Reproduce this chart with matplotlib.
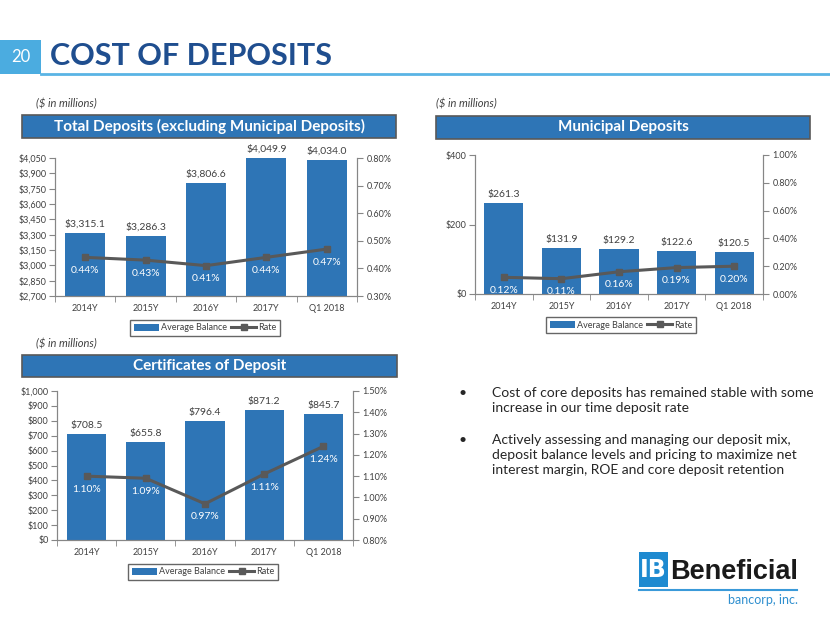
import numpy as np
import matplotlib
matplotlib.use("Agg")
import matplotlib.pyplot as plt
from matplotlib.patches import Rectangle, Patch
from matplotlib.lines import Line2D

# data ($ in millions, rates in %)
years = ['2014Y', '2015Y', '2016Y', '2017Y', 'Q1 2018']
total_bal = [3315.1, 3286.3, 3806.6, 4049.9, 4034.0]
total_rate = [0.44, 0.43, 0.41, 0.44, 0.47]
muni_bal = [261.3, 131.9, 129.2, 122.6, 120.5]
muni_rate = [0.12, 0.11, 0.16, 0.19, 0.20]
cd_bal = [708.5, 655.8, 796.4, 871.2, 845.7]
cd_rate = [1.10, 1.09, 0.97, 1.11, 1.24]

bullets = [
    ["Cost of core deposits has remained stable with some",
     "increase in our time deposit rate"],
    ["Actively assessing and managing our deposit mix,",
     "deposit balance levels and pricing to maximize net",
     "interest margin, ROE and core deposit retention"],
]

BAR = '#2E75B6'
LINE = '#595959'
TXT = '#404040'
SPINE = '#868686'

plt.rcParams['font.family'] = ['Lato', 'DejaVu Sans']

W, H = 830, 623
fig = plt.figure(figsize=(W / 100, H / 100), dpi=100)


def fx(x):
    return x / W


def fy(y):
    return 1 - y / H


def box(l, t, r, b):
    return [fx(l), fy(b), (r - l) / W, (b - t) / H]


# slide title
fig.patches.append(Rectangle((fx(0), fy(74)), fx(41), 34 / H, transform=fig.transFigure,
                             facecolor='#4BACE0', edgecolor='none'))
fig.text(fx(21), fy(57), '20', color='white', fontsize=12, ha='center', va='center')
fig.add_artist(Line2D([fx(41), 1], [fy(74), fy(74)], color='#5AB4E5', lw=2))
fig.text(fx(50), fy(56), 'COST OF DEPOSITS', color='#1F4E8F', fontsize=22,
         fontweight='bold', ha='left', va='center')


def header(l, t, r, b, title):
    fig.patches.append(Rectangle((fx(l), fy(b)), (r - l) / W, (b - t) / H,
                                 transform=fig.transFigure, facecolor=BAR,
                                 edgecolor='#595959', lw=1.2))
    fig.text(fx((l + r) / 2), fy((t + b) / 2), title, color='white', fontsize=11,
             fontweight='bold', ha='center', va='center')


def draw_chart(pos, bal, rate, ylim, yticks, yfmt, rlim, rticks, bw, leg_xy):
    ax = fig.add_axes(pos)
    x = np.arange(len(years))
    ax.bar(x, bal, width=bw, color=BAR, zorder=2)
    ax.set_xlim(-0.5, len(years) - 0.5)
    ax.set_ylim(*ylim)
    ax.set_yticks(yticks)
    ax.set_yticklabels([yfmt(v) for v in yticks])
    ax.set_xticks(x)
    ax.set_xticklabels(years)
    ax.set_xticks(np.arange(-0.5, len(years), 1), minor=True)
    ax.tick_params(axis='x', which='major', length=0, pad=6)
    ax.tick_params(axis='x', which='minor', length=4, color=SPINE)
    ax.tick_params(axis='y', length=4, color=SPINE, pad=2)
    ax.tick_params(labelsize=6.5, labelcolor=TXT)
    for v, xi in zip(bal, x):
        ax.annotate(f'${v:,.1f}', (xi, v), xytext=(0, 4), textcoords='offset pixels',
                    ha='center', va='bottom', fontsize=7.5, color=TXT)

    ax2 = ax.twinx()
    ax2.plot(x, rate, color=LINE, lw=2.2, marker='s', ms=5)
    ax2.set_ylim(*rlim)
    ax2.set_yticks(rticks)
    ax2.set_yticklabels([f'{v:.2f}%' for v in rticks])
    ax2.tick_params(axis='y', length=4, color=SPINE, labelsize=6.5, labelcolor=TXT, pad=3)
    for r, xi in zip(rate, x):
        ax2.annotate(f'{r:.2f}%', (xi, r), xytext=(0, -13), textcoords='offset pixels',
                     ha='center', va='center', fontsize=7.5, color='white')

    for a in (ax, ax2):
        a.spines['top'].set_visible(False)
        for s in ('left', 'right', 'bottom'):
            a.spines[s].set_color(SPINE)

    handles = [Patch(facecolor=BAR, edgecolor='none'),
               Line2D([], [], color=LINE, lw=2.2, marker='s', ms=5)]
    leg = fig.legend(handles, ['Average Balance', 'Rate'], loc='center',
                     bbox_to_anchor=(fx(leg_xy[0]), fy(leg_xy[1])), ncol=2,
                     fancybox=False, edgecolor='#404040', fontsize=6.5,
                     handlelength=2.8, handleheight=0.9, columnspacing=0.5,
                     handletextpad=0.2, borderpad=0.35, labelcolor=TXT)
    leg.get_frame().set_linewidth(1)
    return ax


# top left
fig.text(fx(36), fy(104), '($ in millions)', fontsize=8, style='italic', color=TXT,
         ha='left', va='center')
header(22, 115, 396, 138, 'Total Deposits (excluding Municipal Deposits)')
draw_chart(box(55, 158, 357, 296), total_bal, total_rate,
           (2700, 4050), np.arange(2700, 4051, 150), lambda v: f'${v:,.0f}',
           (0.30, 0.80), np.arange(0.30, 0.801, 0.10), 0.66, (205, 328))

# top right
fig.text(fx(436), fy(104), '($ in millions)', fontsize=8, style='italic', color=TXT,
         ha='left', va='center')
header(436, 116, 810, 139, 'Municipal Deposits')
draw_chart(box(475, 155, 763, 294), muni_bal, muni_rate,
           (0, 400), [0, 200, 400], lambda v: f'${v:,.0f}',
           (0.0, 1.0), np.arange(0.0, 1.001, 0.20), 0.68, (621, 325))

# bottom left
fig.text(fx(36), fy(344), '($ in millions)', fontsize=8, style='italic', color=TXT,
         ha='left', va='center')
header(22, 355, 397, 377, 'Certificates of Deposit')
draw_chart(box(57, 391, 353, 540), cd_bal, cd_rate,
           (0, 1000), np.arange(0, 1001, 100), lambda v: f'${v:,.0f}',
           (0.80, 1.50), np.arange(0.80, 1.501, 0.10), 0.66, (203, 572))

# bullet points
y = 393
for lines in bullets:
    fig.text(fx(458), fy(y), '•', fontsize=10, color='#262626', ha='left', va='center')
    for line in lines:
        fig.text(fx(492), fy(y), line, fontsize=10, color='#262626', ha='left', va='center')
        y += 15
    y += 17

# logo
fig.patches.append(Rectangle((fx(639), fy(587)), 29 / W, 35 / H, transform=fig.transFigure,
                             facecolor='#1E8AD0', edgecolor='none'))
fig.text(fx(653.5), fy(570), 'IB', color='white', fontsize=17, fontweight='bold',
         ha='center', va='center', family='DejaVu Sans')
fig.text(fx(670), fy(572), 'Beneficial', color='#1A1A1A', fontsize=19.5, fontweight='bold',
         ha='left', va='center', family='Liberation Sans')
fig.add_artist(Line2D([fx(639), fx(797)], [fy(590), fy(590)], color='#3A9AD9', lw=1.5))
fig.text(fx(798), fy(600), 'bancorp, inc.', color='#2F8FCF', fontsize=9,
         ha='right', va='center')

fig.savefig('out.png', dpi=100)
